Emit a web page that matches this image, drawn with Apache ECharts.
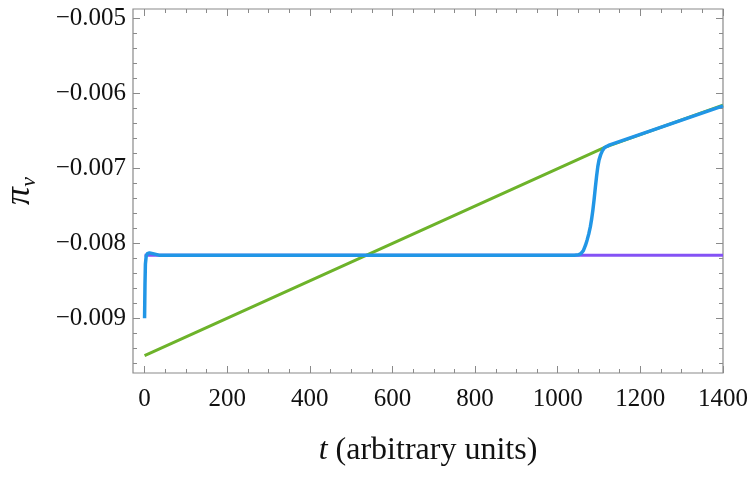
<!DOCTYPE html>
<html>
<head>
<meta charset="utf-8">
<script src="https://cdn.jsdelivr.net/npm/echarts@6/dist/echarts.min.js"></script>
<style>
  html, body { margin: 0; padding: 0; background: #fff; }
  #chart { width: 750px; height: 478px; }
</style>
</head>
<body>
<div id="chart"></div>
<script>
// 数据 (读自图片)
var xTicks = [0, 200, 400, 600, 800, 1000, 1200, 1400];
var yTicks = [-0.009, -0.008, -0.007, -0.006, -0.005];

// 紫线: 常数
var tPurple = [0, 1400];
var piPurple = [-0.00816, -0.00816];

// 绿线: 线性上升, ~1115 处折弯
var tGreen = [0, 1115, 1400];
var piGreen = [-0.00950, -0.00672, -0.00616];

// 蓝线: 初始尖峰, 平台, 在 ~1090 处跃迁后贴着绿线
var tBlue = [0, 1, 2, 4, 7, 12, 20, 35, 1040, 1050, 1056, 1062, 1067, 1071, 1075, 1079, 1082, 1085, 1088, 1091, 1094, 1097, 1100, 1104, 1108, 1113, 1119, 1126, 1400];
var piBlue = [-0.00900, -0.00855, -0.00828, -0.00817, -0.00814, -0.00813, -0.00814, -0.00816, -0.00816, -0.008155, -0.00814, -0.00810, -0.00803, -0.00796, -0.00788, -0.00778, -0.00768, -0.00756, -0.00742, -0.00726, -0.00711, -0.00698, -0.00689, -0.00682, -0.00677, -0.00673, -0.00671, -0.00669, -0.00617];

var xMin = -28, xMax = 1400;
var yMin = -0.00973, yMax = -0.00488;

function zip(a, b) {
    var out = [];
    for (var i = 0; i < a.length; i++) out.push([a[i], b[i]]);
    return out;
}

// 次刻度
var xMinor = [];
for (var i = 0; i <= 28; i++) xMinor.push(i * 50);
var yMinor = [];
for (var j = 0; j <= 24; j++) {
    var v = -0.0096 + j * 0.0002;
    if (v > yMin && v < yMax) yMinor.push(+v.toFixed(4));
}

var frameColor = '#8a8a8a';
var font = 'Liberation Serif';

function makeAxis(pos, ticks, len, labels, isX) {
    var ax = {
        type: 'value',
        position: pos,
        min: isX ? xMin : yMin,
        max: isX ? xMax : yMax,
        axisLine: { show: false, onZero: false },
        splitLine: { show: false },
        axisTick: {
            show: true, inside: true, length: len,
            customValues: ticks,
            lineStyle: { color: frameColor, width: 1 }
        },
        axisLabel: { show: false }
    };
    if (labels) {
        ax.axisLabel = {
            show: true,
            customValues: ticks,
            fontFamily: font,
            fontSize: 25,
            color: '#111',
            margin: isX ? 14 : 7,
            formatter: isX ? function (v) { return String(v); }
                           : function (v) { return '\u2212' + Math.abs(v).toFixed(3); }
        };
    }
    return ax;
}

var xAxes = [
    makeAxis('bottom', xTicks, 7, true, true),
    makeAxis('bottom', xMinor, 4, false, true),
    makeAxis('top', xTicks, 7, false, true),
    makeAxis('top', xMinor, 4, false, true)
];
xAxes[0].name = '{i|t} (arbitrary units)';
xAxes[0].nameLocation = 'middle';
xAxes[0].nameGap = 62;
xAxes[0].nameTextStyle = {
    fontFamily: font, fontSize: 32, color: '#111',
    rich: { i: { fontFamily: font, fontSize: 32, fontStyle: 'italic', color: '#111' } }
};

var yAxes = [
    makeAxis('left', yTicks, 7, true, false),
    makeAxis('left', yMinor, 4, false, false),
    makeAxis('right', yTicks, 7, false, false),
    makeAxis('right', yMinor, 4, false, false)
];
yAxes[0].name = '{p|\u03c0}{s|v}';
yAxes[0].nameLocation = 'middle';
yAxes[0].nameRotate = 90;
yAxes[0].nameGap = 93;
yAxes[0].nameTextStyle = {
    rich: {
        p: { fontFamily: font, fontSize: 36, fontStyle: 'italic', color: '#111' },
        s: { fontFamily: font, fontSize: 22, fontStyle: 'italic', color: '#111', padding: [18, 0, 0, 0] }
    }
};

var chart = echarts.init(document.getElementById('chart'));
chart.setOption({
    animation: false,
    backgroundColor: '#fff',
    grid: {
        left: 133, right: 27, top: 9, bottom: 105,
        outerBoundsMode: 'none',
        show: true, borderColor: frameColor, borderWidth: 1.2
    },
    xAxis: xAxes,
    yAxis: yAxes,
    series: [
        {
            name: 'purple', type: 'line', symbol: 'none',
            data: zip(tPurple, piPurple),
            lineStyle: { color: '#8452f5', width: 3 }
        },
        {
            name: 'green', type: 'line', symbol: 'none',
            data: zip(tGreen, piGreen),
            lineStyle: { color: '#6db32a', width: 3 }
        },
        {
            name: 'blue', type: 'line', symbol: 'none',
            data: zip(tBlue, piBlue),
            lineStyle: { color: '#2196e6', width: 3.5, join: 'round' }
        }
    ]
});
</script>
</body>
</html>
